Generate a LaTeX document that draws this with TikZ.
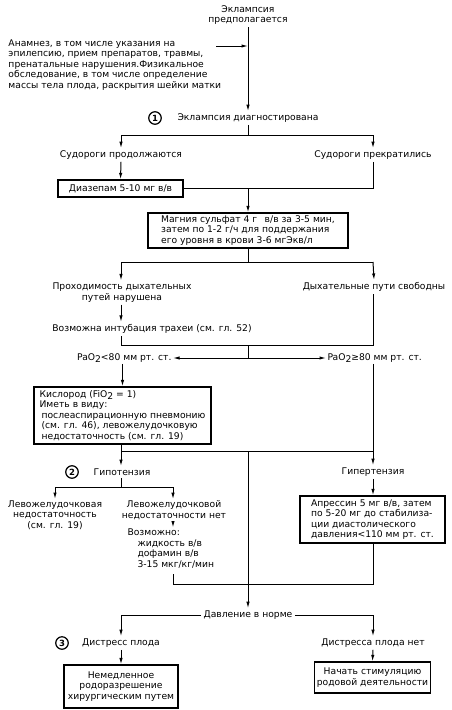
\documentclass[tikz,border=0pt]{standalone}
\usepackage{fontspec}
\setmainfont{DejaVu Sans}
\usetikzlibrary{arrows.meta,calc}
\newcommand{\lowsub}[1]{\raisebox{-0.4ex}{#1}}
\begin{document}
\begin{tikzpicture}[x=1pt,y=-1pt,
  line width=1pt,
  every node/.style={font=\fontsize{9.2}{10.5}\selectfont},
  txt/.style={inner sep=2pt,align=center},
  ltxt/.style={inner sep=0pt,align=left},
  box/.style={draw,line width=1.3pt,inner sep=2pt,align=left},
  cbox/.style={draw,line width=1.3pt,inner sep=2pt,align=center},
  num/.style={draw,circle,line width=1.2pt,inner sep=0pt,minimum size=12.5pt,font=\fontsize{8.5}{10}\selectfont\bfseries},
  arr/.style={-{Latex[length=6.5pt,width=3.4pt]}}
]
\useasboundingbox (0,0) rectangle (451,710);
\fill[white] (0,0) rectangle (451,710);

% top
\node[txt] (top) at (248,15) {Эклампсия\\предполагается};
\node[ltxt,anchor=west] (anam) at (8,65) {Анамнез, в том числе указания на\\эпилепсию, прием препаратов, травмы,\\пренатальные нарушения.Физикальное\\обследование, в том числе определение\\массы тела плода, раскрытия шейки матки};
\coordinate (a0) at (216,46);
\coordinate (j0) at (248,46);
\node[txt] (diag) at (248,118) {Эклампсия диагностирована};
\node[num] (n1) at (155,118) {1};
\draw[arr] (top.south) -- (diag.north);
\draw[arr] (a0) -- (j0);

% convulsions
\coordinate (j1) at (248,135);
\coordinate (j1l) at (121,135);
\coordinate (j1r) at (373,135);
\node[txt] (conv) at (121,155) {Судороги продолжаются};
\node[txt] (stop) at (373,155) {Судороги прекратились};
\draw (diag.south) -- (j1);
\draw (j1l) -- (j1r);
\draw[arr] (j1l) -- (conv.north);
\draw[arr] (j1r) -- (stop.north);

\node[cbox,minimum width=125pt,minimum height=17pt] (diaz) at (120.5,188.5) {Диазепам 5-10 мг в/в};
\draw[arr] (conv.south) -- (diaz.north);
\coordinate (j2) at (248,188.5);
\draw (stop.south) |- (diaz.east);

\node[box,minimum width=200pt,minimum height=35pt] (mag) at (248,230.5) {Магния сульфат 4 г\enspace\ в/в за 3-5 мин,\\затем по 1-2 г/ч для поддержания\\его уровня в крови 3-6 мгЭкв/л};
\draw[arr] (j2) -- (mag.north);

% airway
\coordinate (j3) at (248,262);
\coordinate (j3l) at (121,262);
\coordinate (j3r) at (373,262);
\draw (mag.south) -- (j3);
\draw (j3l) -- (j3r);
\node[txt] (air) at (122,292.5) {Проходимость дыхательных\\путей нарушена};
\node[txt] (free) at (374,287) {Дыхательные пути свободны};
\draw[arr] (j3l) -- (j3l |- air.north);
\draw[arr] (j3r) -- (free.north);
\node[txt] (intub) at (152,329) {Возможна интубация трахеи (см. гл. 52)};
\draw[arr] (j3l |- air.south) -- (j3l |- intub.north);

\coordinate (j4) at (248,345);
\coordinate (j4l) at (121,345);
\coordinate (j4r) at (373,345);
\draw (j3l |- intub.south) -- (j4l) -- (j4r) -- (free.south -| j4r);
\coordinate (j5) at (248,358);
\draw (j4) -- (j5);
\node[txt,anchor=east,inner sep=1pt] (pao1) at (173,358) {PaO\lowsub{2}<80 мм рт. ст.};
\node[txt,anchor=west,inner sep=1pt] (pao2) at (326,358) {PaO\lowsub{2}≥80 мм рт. ст.};
\draw[arr] (j5) -- (pao1.east);
\draw[arr] (j5) -- (pao2.west);

% oxygen
\node[box,minimum width=177pt,minimum height=57pt] (oxy) at (122.5,415.5) {Кислород (FiO\lowsub{2} = 1)\\Иметь в виду:\\\hspace*{2pt}послеаспирационную пневмонию\\\hspace*{2pt}(см. гл. 46), левожелудочковую\\\hspace*{2pt}недостаточность (см. гл. 19)};
\draw[arr] (oxy.north |- pao1.south) -- (oxy.north);

\coordinate (j6) at (248,451);
\coordinate (j6l) at (121,451);
\coordinate (j6r) at (373,451);
\draw (j6r |- pao2.south) -- (j6r);
\draw (j6l |- oxy.south) -- (j6l) -- (j6r);

\node[txt] (hypo) at (122,472) {Гипотензия};
\node[num] (n2) at (72,472) {2};
\node[txt] (hyper) at (373,472) {Гипертензия};
\draw[arr] (j6l) -- (j6l |- hypo.north);
\draw[arr] (j6r) -- (hyper.north);

\coordinate (j7) at (121,487);
\coordinate (j7l) at (55,487);
\coordinate (j7r) at (173,487);
\draw (j6l |- hypo.south) -- (j7);
\draw (j7l) -- (j7r);
\node[txt,inner sep=1pt] (lvf) at (55,515) {Левожелудочковая\\недостаточность\\(см. гл. 19)};
\node[txt,inner sep=1pt] (nolvf) at (174,510) {Левожелудочковой\\недостаточности нет};
\draw[arr] (j7l) -- (j7l |- lvf.north);
\draw[arr] (j7r) -- (j7r |- nolvf.north);

\node[ltxt,anchor=north west] (vozm) at (127,528.5) {Возможно:\\\hspace*{10pt}жидкость в/в\\\hspace*{10pt}дофамин в/в\\\hspace*{10pt}3-15 мкг/кг/мин};
\draw[arr] (j7r |- nolvf.south) -- (173,527.5);

\node[box,minimum width=145pt,minimum height=47pt] (apr) at (372.5,519.5) {Апрессин 5 мг в/в, затем\\по 5-20 мг до стабилиза-\\ции диастолического\\давления<110 мм рт. ст.};
\draw[arr] (hyper.south) -- (apr.north -| hyper.south);

\coordinate (j8l) at (173,584);
\coordinate (j8r) at (373,584);
\coordinate (j8s) at (173,574);
\draw (j8s) -- (j8l) -- (j8r) -- (j8r |- apr.south);

% normal pressure
\node[txt] (norm) at (248,615) {Давление в норме};
\draw[arr] (j6) -- (norm.north);
\coordinate (j9l) at (121,615);
\coordinate (j9r) at (373,615);
\node[txt] (dist) at (121,643) {Дистресс плода};
\node[num] (n3) at (62,643) {3};
\node[txt] (nodist) at (373,643) {Дистресса плода нет};
\draw[arr] (norm.west) -- (j9l) -- (dist.north);
\draw[arr] (norm.east) -- (j9r) -- (nodist.north);

\node[cbox,minimum width=114pt,minimum height=43pt] (surg) at (121,686.5) {Немедленное\\родоразрешение\\хирургическим путем};
\node[cbox,minimum width=113pt,minimum height=31pt] (labor) at (372.5,677.5) {Начать стимуляцию\\родовой деятельности};
\draw[arr] (dist.south) -- (surg.north);
\draw[arr] (nodist.south) -- (labor.north);
\end{tikzpicture}
\end{document}
